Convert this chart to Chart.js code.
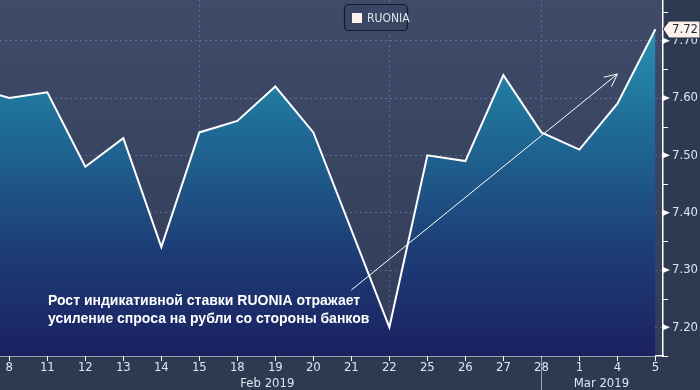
<!DOCTYPE html>
<html>
<head>
<meta charset="utf-8">
<script src="https://cdn.jsdelivr.net/npm/chart.js@4"></script>
<style>
  html, body { margin: 0; padding: 0; background: #2e3a52; }
  #wrap { width: 700px; height: 390px; position: relative; }
</style>
</head>
<body>
<div id="wrap"><canvas id="chart"></canvas></div>
<script>
// day labels (first one, 7 Feb, sits just off the left edge)
const days = ["7", "8", "11", "12", "13", "14", "15", "18", "19", "20", "21", "22", "25", "26", "27", "28", "1", "4", "5"];
const ruonia = [7.62, 7.60, 7.61, 7.48, 7.53, 7.34, 7.54, 7.56, 7.62, 7.54, 7.37, 7.20, 7.50, 7.49, 7.64, 7.54, 7.51, 7.59, 7.72];
const yTicks = [7.20, 7.30, 7.40, 7.50, 7.60, 7.70];
const gridDays = ["15", "22", "28"];
const months = [{ text: "Feb 2019", from: "8", to: "28" }, { text: "Mar 2019", from: "1", to: "5" }];
const note = ["Рост индикативной ставки RUONIA отражает", "усиление спроса на рубли со стороны банков"];

const tickFont = '13px "DejaVu Sans Condensed", "DejaVu Sans", sans-serif';
const labelColor = "#dfe4ee";

// background, ticks, labels etc.
const extras = {
  id: "extras",
  beforeDraw(chart) {
    const { ctx, chartArea: a } = chart;
    ctx.save();
    ctx.fillStyle = "#2e3a52";
    ctx.fillRect(0, 0, chart.width, chart.height);
    let g = ctx.createLinearGradient(0, a.top, 0, a.bottom);
    g.addColorStop(0, "#3f4b69");
    g.addColorStop(1, "#323c58");
    ctx.fillStyle = g;
    ctx.fillRect(a.left, a.top, a.right - a.left, a.bottom - a.top);
    ctx.restore();
  },
  afterDraw(chart) {
    const { ctx, chartArea: a } = chart;
    const xs = chart.scales.x, ys = chart.scales.y;
    ctx.save();
    ctx.strokeStyle = "#ffffff";
    ctx.fillStyle = "#ffffff";
    ctx.lineWidth = 1;

    // x tick marks
    days.forEach((d, i) => {
      const px = Math.round(xs.getPixelForValue(i)) + 0.5;
      if (px < a.left || px > a.right) return;
      ctx.beginPath();
      ctx.moveTo(px, a.bottom);
      ctx.lineTo(px, a.bottom + 5);
      ctx.stroke();
    });

    // y ticks: arrows at majors, small lines at minors
    yTicks.forEach((v) => {
      const py = ys.getPixelForValue(v);
      ctx.beginPath();
      ctx.moveTo(a.right, py - 3);
      ctx.lineTo(a.right + 7, py);
      ctx.lineTo(a.right, py + 3);
      ctx.closePath();
      ctx.fill();
      const pm = Math.round(ys.getPixelForValue(v + 0.05)) + 0.5;
      ctx.beginPath();
      ctx.moveTo(a.right, pm);
      ctx.lineTo(a.right + 5, pm);
      ctx.stroke();
    });
    const pLow = Math.round(ys.getPixelForValue(yTicks[0] - 0.05)) + 0.5;
    ctx.beginPath();
    ctx.moveTo(a.right, pLow);
    ctx.lineTo(a.right + 5, pLow);
    ctx.stroke();

    // month labels (slightly left of the middle of their days)
    ctx.font = tickFont;
    ctx.fillStyle = labelColor;
    ctx.textAlign = "center";
    ctx.textBaseline = "alphabetic";
    const shift = [-8, -16];
    months.forEach((m, k) => {
      const x1 = xs.getPixelForValue(days.indexOf(m.from));
      const x2 = xs.getPixelForValue(days.lastIndexOf(m.to));
      ctx.fillText(m.text, (x1 + x2) / 2 + shift[k], 387);
    });
    // month separator
    const sep = Math.round(xs.getPixelForValue(days.indexOf("28"))) + 0.5;
    ctx.strokeStyle = "#9aa3b5";
    ctx.beginPath();
    ctx.moveTo(sep, a.bottom + 1);
    ctx.lineTo(sep, chart.height);
    ctx.stroke();

    // annotation arrow
    const ax1 = xs.getPixelForValue(days.indexOf("21")), ay1 = 290;
    const ax2 = xs.getPixelForValue(days.indexOf("4")), ay2 = 74;
    ctx.strokeStyle = "#ffffff";
    ctx.lineWidth = 1;
    ctx.beginPath();
    ctx.moveTo(ax1, ay1);
    ctx.lineTo(ax2, ay2);
    ctx.stroke();
    const ang = Math.atan2(ay2 - ay1, ax2 - ax1);
    ctx.beginPath();
    ctx.moveTo(ax2 - 14 * Math.cos(ang - 0.45), ay2 - 14 * Math.sin(ang - 0.45));
    ctx.lineTo(ax2, ay2);
    ctx.lineTo(ax2 - 14 * Math.cos(ang + 0.45), ay2 - 14 * Math.sin(ang + 0.45));
    ctx.stroke();

    // note text
    ctx.font = 'bold 14px "Liberation Sans", Arial, sans-serif';
    ctx.fillStyle = "#ffffff";
    ctx.textAlign = "left";
    ctx.fillText(note[0], 48, 305);
    ctx.fillText(note[1], 48, 323);

    // last value flag
    const last = ruonia[ruonia.length - 1];
    const fy = Math.round(ys.getPixelForValue(last));
    ctx.fillStyle = "#fdf2ea";
    ctx.strokeStyle = "#1d2740";
    ctx.beginPath();
    ctx.moveTo(a.right, fy);
    ctx.lineTo(a.right + 6, fy - 8);
    ctx.lineTo(700, fy - 8);
    ctx.lineTo(700, fy + 9);
    ctx.lineTo(a.right + 6, fy + 9);
    ctx.closePath();
    ctx.fill();
    ctx.stroke();
    ctx.fillStyle = "#1d2740";
    ctx.font = tickFont;
    ctx.textBaseline = "middle";
    ctx.fillText(last.toFixed(2), a.right + 9, fy + 1);

    // legend box
    ctx.fillStyle = "#3a4663";
    ctx.strokeStyle = "#161c2c";
    ctx.lineWidth = 1.2;
    ctx.beginPath();
    ctx.roundRect(344.5, 4.5, 63, 26, 4);
    ctx.fill();
    ctx.stroke();
    ctx.fillStyle = "#fdf2ee";
    ctx.fillRect(352, 13, 10, 10);
    ctx.fillStyle = labelColor;
    ctx.font = '12px "DejaVu Sans Condensed", "DejaVu Sans", sans-serif';
    ctx.fillText(chart.data.datasets[0].label, 367, 18.5);
    ctx.restore();
  }
};

new Chart(document.getElementById("chart"), {
  type: "line",
  data: {
    datasets: [{
      label: "RUONIA",
      data: ruonia.map((v, i) => ({ x: i, y: v })),
      borderColor: "#ffffff",
      borderWidth: 2,
      pointRadius: 0,
      tension: 0,
      fill: "start",
      backgroundColor: (c) => {
        const a = c.chart.chartArea;
        if (!a) return "#1f5f8f";
        const g = c.chart.ctx.createLinearGradient(0, a.top, 0, a.bottom);
        g.addColorStop(0, "#2a9cb8");
        g.addColorStop(0.35, "#1f6d97");
        g.addColorStop(0.7, "#1d3d77");
        g.addColorStop(1, "#1b2160");
        return g;
      }
    }]
  },
  options: {
    responsive: true,
    maintainAspectRatio: false,
    animation: false,
    layout: { padding: 0 },
    plugins: { legend: { display: false }, tooltip: { enabled: false } },
    scales: {
      x: {
        type: "linear",
        min: 0.755,
        max: 18.2,
        afterBuildTicks: (s) => { s.ticks = days.map((d, i) => ({ value: i })).filter((t) => t.value >= 1); },
        afterFit: (s) => { s.height = 34; s.paddingLeft = 0; s.paddingRight = 0; },
        ticks: {
          autoSkip: false,
          maxRotation: 0,
          padding: 4,
          color: labelColor,
          font: { family: '"DejaVu Sans Condensed", "DejaVu Sans", sans-serif', size: 13 },
          callback: (v) => days[v]
        },
        grid: {
          drawTicks: false,
          lineWidth: 1,
          color: (c) => (c.tick && gridDays.includes(days[c.tick.value])) ? "rgba(125,150,185,0.45)" : "rgba(0,0,0,0)"
        },
        border: { color: "#ffffff", width: 1.5, dash: [2, 3] }
      },
      y: {
        position: "right",
        min: 7.15,
        max: 7.771,
        afterBuildTicks: (s) => { s.ticks = yTicks.map((v) => ({ value: v })); },
        afterFit: (s) => { s.width = 37; s.paddingTop = 0; s.paddingBottom = 0; },
        ticks: {
          padding: 9,
          color: labelColor,
          font: { family: '"DejaVu Sans Condensed", "DejaVu Sans", sans-serif', size: 13 },
          callback: (v) => v.toFixed(2)
        },
        grid: { drawTicks: false, color: "rgba(125,150,185,0.5)", lineWidth: 1 },
        border: { color: "#ffffff", width: 1.5, dash: [2, 3] }
      }
    }
  },
  plugins: [extras]
});
</script>
</body>
</html>
